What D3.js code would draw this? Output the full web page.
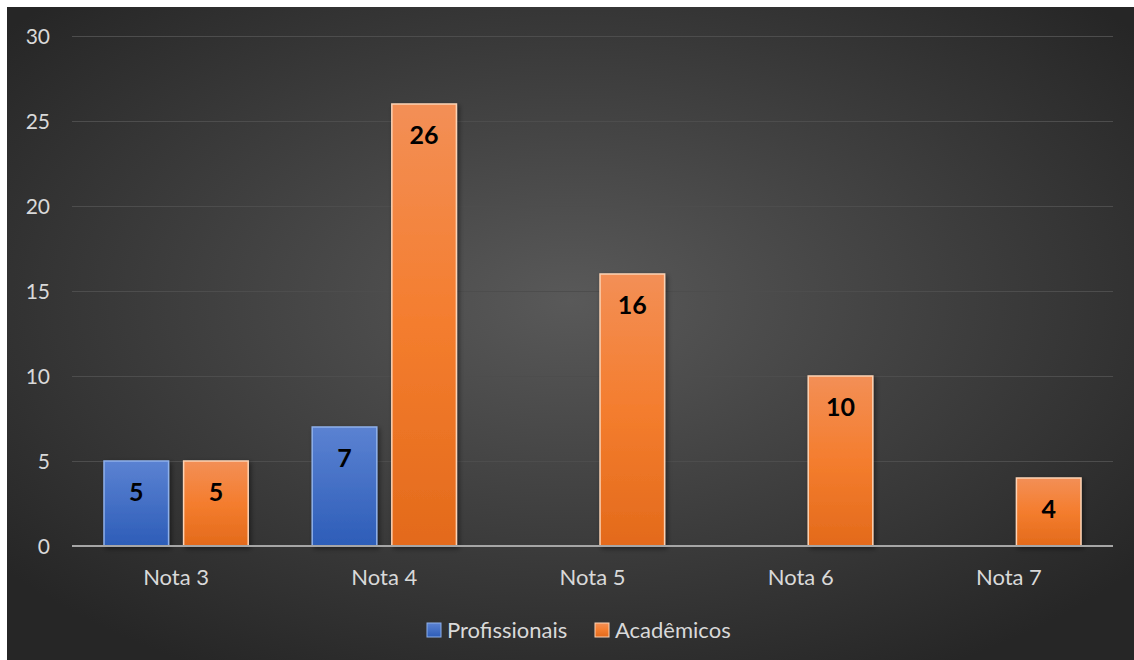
<!DOCTYPE html>
<html><head><meta charset="utf-8">
<script src="https://cdn.jsdelivr.net/npm/d3@7"></script>
<style>
html,body{margin:0;padding:0;background:#fff;}
svg{display:block;}
</style></head>
<body>
<svg id="chart" width="1134" height="660"></svg>
<script>
const categories = ["Nota 3","Nota 4","Nota 5","Nota 6","Nota 7"];
const seriesNames = ["Profissionais","Acadêmicos"];
const profissionais = [5, 7, null, null, null];
const academicos = [5, 26, 16, 10, 4];
const yTicks = [0,5,10,15,20,25,30];

const svg = d3.select("#chart");
const W = 1134, H = 660;
const defs = svg.append("defs");

const bg = defs.append("radialGradient").attr("id","bg").attr("cx","50%").attr("cy","45%").attr("r","65%");
bg.append("stop").attr("offset","0%").attr("stop-color","#595959");
bg.append("stop").attr("offset","100%").attr("stop-color","#262626");

const gBlue = defs.append("linearGradient").attr("id","gBlue").attr("x1",0).attr("y1",0).attr("x2",0).attr("y2",1);
gBlue.append("stop").attr("offset","0%").attr("stop-color","#5b82d2");
gBlue.append("stop").attr("offset","100%").attr("stop-color","#2d5db8");
const gOr = defs.append("linearGradient").attr("id","gOr").attr("x1",0).attr("y1",0).attr("x2",0).attr("y2",1);
gOr.append("stop").attr("offset","0%").attr("stop-color","#f38f56");
gOr.append("stop").attr("offset","50%").attr("stop-color","#f47d2e");
gOr.append("stop").attr("offset","100%").attr("stop-color","#e36a1b");

const sh = defs.append("filter").attr("id","sh").attr("x","-20%").attr("y","-20%").attr("width","150%").attr("height","150%");
sh.append("feDropShadow").attr("dx",2).attr("dy",2).attr("stdDeviation",2.5).attr("flood-color","#000").attr("flood-opacity",0.45);

svg.append("rect").attr("x",7).attr("y",7).attr("width",W-7).attr("height",H-7).attr("fill","url(#bg)");

const x0 = 72, x1 = 1113;
const y = d3.scaleLinear().domain([0,30]).range([546,36]);
const xb = d3.scaleBand().domain(categories).range([x0,x1]).paddingInner(0).paddingOuter(0);
const xs = d3.scaleBand().domain(seriesNames).range([32, xb.bandwidth()-32]).paddingInner(0.189);

const font = "Lato, 'Open Sans', 'Noto Sans', sans-serif";
const fs = "22px";

// gridlines
svg.append("g").selectAll("line").data(yTicks.filter(d=>d>0)).join("line")
  .attr("x1",x0).attr("x2",x1).attr("y1",d=>y(d)+0.5).attr("y2",d=>y(d)+0.5)
  .attr("stroke","#4d4d4d").attr("stroke-width",1.2);

// y axis labels
const yAxis = d3.axisLeft(y).tickValues(yTicks).tickSize(0).tickPadding(0);
const ya = svg.append("g").attr("transform","translate(50,0)").call(yAxis);
ya.select(".domain").remove();
ya.selectAll("text").attr("fill","#d9d9d9").attr("font-size","21px").attr("font-family",font).attr("text-anchor","end").attr("dy","0.35em");

const data = [profissionais, academicos];
const fills = ["url(#gBlue)","url(#gOr)"];
const strokes = ["#8eb0ea","#fbd2b4"];

seriesNames.forEach((s,i)=>{
  const vals = categories.map((c,j)=>({c, v:data[i][j]})).filter(d=>d.v!=null);
  const g = svg.append("g");
  g.selectAll("rect").data(vals).join("rect")
    .attr("x",d=>xb(d.c)+xs(s)).attr("width",xs.bandwidth())
    .attr("y",d=>y(d.v)).attr("height",d=>y(0)-y(d.v))
    .attr("fill",fills[i]).attr("stroke",strokes[i]).attr("stroke-width",1.5)
    .attr("filter","url(#sh)");
  g.selectAll("text").data(vals).join("text")
    .attr("x",d=>xb(d.c)+xs(s)+xs.bandwidth()/2).attr("y",d=>y(d.v)+31)
    .attr("dy","0.35em").attr("text-anchor","middle")
    .attr("font-family",font).attr("font-weight","bold").attr("font-size","25px").attr("fill","#000")
    .text(d=>d.v);
});

// baseline
svg.append("line").attr("x1",x0).attr("x2",x1).attr("y1",y(0)).attr("y2",y(0))
  .attr("stroke","#a6a6a6").attr("stroke-width",2.2);

// x labels
const xAxis = d3.axisBottom(xb).tickSize(0).tickPadding(0);
const xa = svg.append("g").attr("transform",`translate(0,${y(0)})`).call(xAxis);
xa.select(".domain").remove();
xa.selectAll("text").attr("fill","#d9d9d9").attr("font-size",fs).attr("font-family",font).attr("dy","0.35em").attr("y",31);

// legend
const legend = svg.append("g");
const lx = [427, 595];
seriesNames.forEach((s,i)=>{
  legend.append("rect").attr("x",lx[i]).attr("y",623).attr("width",14).attr("height",14)
    .attr("fill",fills[i]).attr("stroke",strokes[i]).attr("stroke-width",1);
  legend.append("text").attr("x",lx[i]+20).attr("y",630).attr("dy","0.35em")
    .attr("fill","#d9d9d9").attr("font-size",fs).attr("font-family",font).text(s);
});
</script>
</body></html>
